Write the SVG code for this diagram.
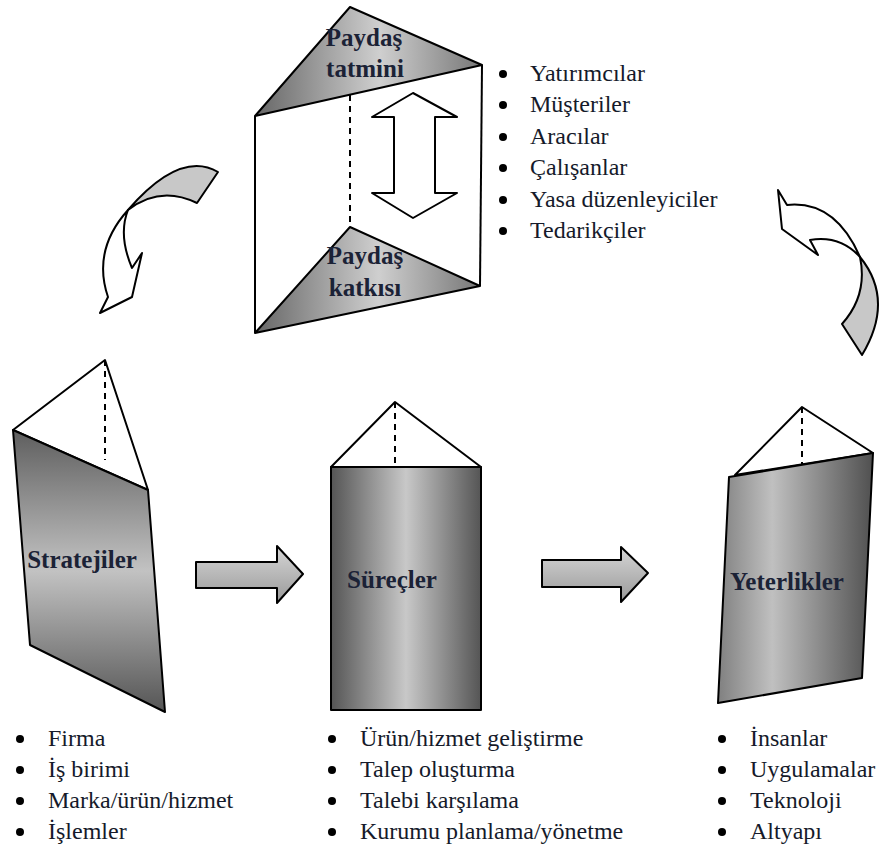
<svg xmlns="http://www.w3.org/2000/svg" width="884" height="849" viewBox="0 0 884 849">
<defs>
<linearGradient id="gTri" x1="0" y1="0" x2="1" y2="0">
<stop offset="0" stop-color="#666"/><stop offset="0.55" stop-color="#cfcfcf"/><stop offset="1" stop-color="#777"/>
</linearGradient>
<linearGradient id="gLeft" x1="0" y1="0" x2="0" y2="1">
<stop offset="0" stop-color="#5e5e5e"/><stop offset="0.5" stop-color="#c2c2c2"/><stop offset="1" stop-color="#555"/>
</linearGradient>
<linearGradient id="gMid" x1="0" y1="0" x2="1" y2="0">
<stop offset="0" stop-color="#555"/><stop offset="0.5" stop-color="#c8c8c8"/><stop offset="1" stop-color="#555"/>
</linearGradient>
<linearGradient id="gRight" x1="0" y1="0" x2="1" y2="0">
<stop offset="0" stop-color="#808080"/><stop offset="0.35" stop-color="#c0c0c0"/><stop offset="1" stop-color="#505050"/>
</linearGradient>
<linearGradient id="gArrow" x1="0" y1="0" x2="0" y2="1">
<stop offset="0" stop-color="#d6d6d6"/><stop offset="1" stop-color="#999"/>
</linearGradient>
<style>
.s{stroke:#000;stroke-width:2;stroke-linejoin:round}
.w{fill:#fff}
.d{stroke:#000;stroke-width:2;stroke-dasharray:6,5;fill:none}
text{font-family:'Liberation Serif','Times New Roman','DejaVu Serif',serif}
.lbl{font-weight:bold;font-size:25px;fill:#1b2236;text-anchor:middle}
.li{font-size:24px;fill:#151a2a}
.b{fill:#000}
</style>
</defs>

<g id="paydas">
<line class="s" x1="255" y1="116" x2="255" y2="333"/>
<line class="s" x1="482" y1="65" x2="480" y2="286"/>
<line class="d" x1="350" y1="95" x2="350" y2="227"/>
<polygon class="s" fill="url(#gTri)" points="350,7 482,65 255,116"/>
<polygon class="s" fill="url(#gTri)" points="350,227 480,286 255,333"/>
<polygon class="s w" points="413,93 457,117 435,117 435,193 457,193 413,218 372,193 394,193 394,117 372,117"/>
<text class="lbl" x="364" y="46">Paydaş</text>
<text class="lbl" x="365" y="77">tatmini</text>
<text class="lbl" x="365" y="264">Paydaş</text>
<text class="lbl" x="365" y="296">katkısı</text>
</g>

<g id="paydas-list">
<circle class="b" cx="503" cy="74" r="4"/><text class="li" x="530" y="81">Yatırımcılar</text>
<circle class="b" cx="503" cy="105" r="4"/><text class="li" x="530" y="112">Müşteriler</text>
<circle class="b" cx="503" cy="137" r="4"/><text class="li" x="530" y="144">Aracılar</text>
<circle class="b" cx="503" cy="168" r="4"/><text class="li" x="530" y="175">Çalışanlar</text>
<circle class="b" cx="503" cy="200" r="4"/><text class="li" x="530" y="207">Yasa düzenleyiciler</text>
<circle class="b" cx="503" cy="231" r="4"/><text class="li" x="530" y="238">Tedarikçiler</text>
</g>

<g id="stratejiler">
<polygon class="s w" points="105,360 148,490 13,430"/>
<line class="d" x1="105" y1="360" x2="105" y2="460"/>
<polygon class="s" fill="url(#gLeft)" points="13,430 148,490 165,712 30,645"/>
<text class="lbl" x="82" y="568">Stratejiler</text>
</g>

<g id="surecler">
<polygon class="s w" points="395,402 481,467 331,467"/>
<line class="d" x1="395" y1="402" x2="395" y2="467"/>
<rect class="s" fill="url(#gMid)" x="331" y="467" width="150" height="243"/>
<text class="lbl" x="392" y="588">Süreçler</text>
</g>

<g id="yeterlikler">
<polygon class="s w" points="802,407 873,453 735,475"/>
<line class="d" x1="802" y1="407" x2="802" y2="470"/>
<polygon class="s" fill="url(#gRight)" points="729,477 873,453 862,678 718,703"/>
<text class="lbl" x="787" y="590">Yeterlikler</text>
</g>

<g id="strat-list">
<circle class="b" cx="20" cy="739" r="4"/><text class="li" x="48" y="746">Firma</text>
<circle class="b" cx="20" cy="770" r="4"/><text class="li" x="48" y="777">İş birimi</text>
<circle class="b" cx="20" cy="801" r="4"/><text class="li" x="48" y="808">Marka/ürün/hizmet</text>
<circle class="b" cx="20" cy="832" r="4"/><text class="li" x="48" y="839">İşlemler</text>
</g>

<g id="surec-list">
<circle class="b" cx="332" cy="739" r="4"/><text class="li" x="360" y="746">Ürün/hizmet geliştirme</text>
<circle class="b" cx="332" cy="770" r="4"/><text class="li" x="360" y="777">Talep oluşturma</text>
<circle class="b" cx="332" cy="801" r="4"/><text class="li" x="360" y="808">Talebi karşılama</text>
<circle class="b" cx="332" cy="832" r="4"/><text class="li" x="360" y="839">Kurumu planlama/yönetme</text>
</g>

<g id="yeter-list">
<circle class="b" cx="722" cy="739" r="4"/><text class="li" x="750" y="746">İnsanlar</text>
<circle class="b" cx="722" cy="770" r="4"/><text class="li" x="750" y="777">Uygulamalar</text>
<circle class="b" cx="722" cy="801" r="4"/><text class="li" x="750" y="808">Teknoloji</text>
<circle class="b" cx="722" cy="832" r="4"/><text class="li" x="750" y="839">Altyapı</text>
</g>

<g id="connectors">
<polygon class="s" fill="url(#gArrow)" points="196,562 277,562 277,546 303,574 277,603 277,588 196,588"/>
<polygon class="s" fill="url(#gArrow)" points="542,560 621,560 621,547 648,573 621,602 621,587 542,587"/>
<path class="s" fill="#c8c8c8" d="M218,172 Q180,150 128,210 Q160,185 197,203 Z"/>
<path class="s w" d="M128,210 Q92,250 108,297 L100,313 L132,297 L142,253 L132,268 Q118,235 128,210 Z"/>
<path class="s w" d="M778,190 L787,205 Q835,200 860,257 Q840,235 810,240 L818,255 L782,229 Z"/>
<path class="s" fill="#c8c8c8" d="M860,257 Q895,300 862,355 L842,324 Q868,295 860,257 Z"/>
</g>
</svg>
